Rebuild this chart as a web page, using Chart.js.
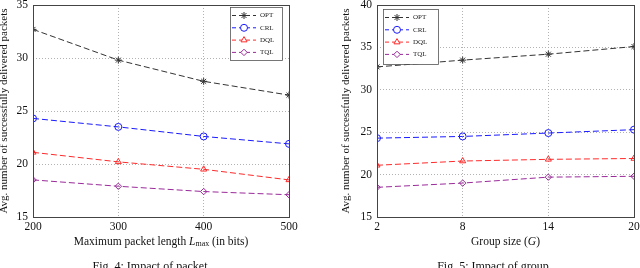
<!DOCTYPE html>
<html>
<head>
<meta charset="utf-8">
<script src="https://cdn.jsdelivr.net/npm/chart.js@4/dist/chart.umd.min.js"></script>
<style>
  html, body { margin: 0; padding: 0; background: #fff; overflow: hidden; }
  #wrap { position: relative; width: 640px; height: 268px; }
  canvas { position: absolute; top: 0; }
</style>
</head>
<body>
<div id="wrap">
  <canvas id="c1" width="320" height="268" style="left:0"></canvas>
  <canvas id="c2" width="320" height="268" style="left:320px"></canvas>
</div>
<script>
// ---- data ----
const seriesNames = ['OPT', 'CRL', 'DQL', 'TQL'];

const packetLengths = [200, 300, 400, 500];
const optByLength = [32.7, 29.8, 27.8, 26.5];
const crlByLength = [24.3, 23.5, 22.6, 21.9];
const dqlByLength = [21.1, 20.2, 19.5, 18.5];
const tqlByLength = [18.5, 17.9, 17.4, 17.1];
const yTicksLength = [15, 20, 25, 30, 35];

const groupSizes = [2, 8, 14, 20];
const optByGroup = [32.7, 33.5, 34.2, 35.1];
const crlByGroup = [24.3, 24.5, 24.9, 25.3];
const dqlByGroup = [21.1, 21.6, 21.8, 21.9];
const tqlByGroup = [18.5, 19.0, 19.7, 19.8];
const yTicksGroup = [15, 20, 25, 30, 35, 40];

const yTitle = 'Avg. number of successfully delivered packets';

// ---- styles ----
const SERIF = "'Liberation Serif', 'DejaVu Serif', serif";
const styles = [
  { color: '#333333', point: 'star', radius: 3.5 },
  { color: '#1a1aff', point: 'circle', radius: 3.5 },
  { color: '#ff2a2a', point: 'triangle', radius: 3.5 },
  { color: '#9a2a9a', point: 'rectRot', radius: 3.2 }
];

function makeDatasets(xs, seriesList) {
  return seriesList.map((vals, i) => ({
    label: seriesNames[i],
    data: xs.map((x, j) => ({ x: x, y: vals[j] })),
    borderColor: styles[i].color,
    backgroundColor: 'rgba(255,255,255,0)',
    pointBorderColor: styles[i].color,
    pointBackgroundColor: 'rgba(255,255,255,0)',
    pointStyle: styles[i].point,
    pointRadius: styles[i].radius,
    pointBorderWidth: 1,
    borderWidth: 1,
    borderDash: [6, 3],
    tension: 0
  }));
}

function framePlugin(opts) {
  return {
    id: 'frameLegend',
    afterDraw(chart) {
      const ctx = chart.ctx;
      const a = chart.chartArea;
      ctx.save();
      // frame
      ctx.strokeStyle = '#444';
      ctx.lineWidth = 1;
      ctx.setLineDash([]);
      ctx.strokeRect(Math.round(a.left) + 0.5, Math.round(a.top) + 0.5,
                     Math.round(a.right - a.left), Math.round(a.bottom - a.top));
      // legend
      const lg = opts.legend;
      const bx = lg.align === 'right' ? a.right - lg.margin - lg.w : a.left + lg.margin;
      const by = a.top + lg.top;
      ctx.fillStyle = '#fff';
      ctx.fillRect(bx, by, lg.w, lg.h);
      ctx.strokeStyle = '#555';
      ctx.lineWidth = 0.8;
      ctx.strokeRect(bx + 0.5, by + 0.5, lg.w, lg.h);
      chart.data.datasets.forEach((ds, i) => {
        const y = by + 8.5 + i * 12.3;
        ctx.strokeStyle = ds.borderColor;
        ctx.lineWidth = 1;
        ctx.setLineDash([4, 3]);
        ctx.beginPath();
        ctx.moveTo(bx + 2, y);
        ctx.lineTo(bx + 26, y);
        ctx.stroke();
        ctx.setLineDash([]);
        ctx.fillStyle = '#fff';
        ctx.strokeStyle = ds.borderColor;
        ctx.lineWidth = 1;
        Chart.helpers.drawPoint(ctx, {
          pointStyle: ds.pointStyle, radius: ds.pointRadius, borderWidth: 1
        }, bx + 14, y);
        ctx.fillStyle = '#222';
        ctx.font = '7px ' + SERIF;
        ctx.textBaseline = 'middle';
        ctx.textAlign = 'left';
        ctx.fillText(ds.label, bx + 30, y);
      });
      // x title
      const cx = (a.left + a.right) / 2;
      const ty = 242;
      ctx.fillStyle = '#111';
      ctx.textBaseline = 'middle';
      const parts = opts.xTitle;
      let total = 0;
      parts.forEach(p => { ctx.font = p.font; total += ctx.measureText(p.t).width; });
      let x = cx - total / 2;
      parts.forEach(p => {
        ctx.font = p.font;
        ctx.textAlign = 'left';
        ctx.fillText(p.t, x, ty + (p.dy || 0));
        x += ctx.measureText(p.t).width;
      });
      // caption
      ctx.font = '12px ' + SERIF;
      ctx.textAlign = 'center';
      ctx.textBaseline = 'top';
      ctx.fillText(opts.caption, opts.captionX, 261);
      ctx.restore();
    }
  };
}

function makeChart(id, xs, seriesList, yTicks, cfg) {
  const gridColor = 'rgba(170,170,170,0.9)';
  return new Chart(document.getElementById(id), {
    type: 'line',
    data: { datasets: makeDatasets(xs, seriesList) },
    options: {
      responsive: false,
      animation: false,
      devicePixelRatio: 1,
      layout: { padding: cfg.padding },
      plugins: { legend: { display: false }, tooltip: { enabled: false } },
      scales: {
        x: {
          type: 'linear',
          min: xs[0], max: xs[xs.length - 1],
          afterBuildTicks: s => { s.ticks = xs.map(v => ({ value: v })); },
          afterFit: s => { s.height = 33; s.paddingLeft = 0; s.paddingRight = 0; },
          grid: { color: gridColor, lineWidth: 1, drawTicks: false },
          border: { display: false, dash: [1, 2] },
          ticks: { color: '#111', font: { family: SERIF, size: 11.5 }, padding: 3, maxRotation: 0, autoSkip: false }
        },
        y: {
          min: yTicks[0], max: yTicks[yTicks.length - 1],
          afterBuildTicks: s => { s.ticks = yTicks.map(v => ({ value: v })); },
          afterFit: s => { s.width = cfg.yWidth; s.paddingTop = 0; s.paddingBottom = 0; },
          grid: { color: gridColor, lineWidth: 1, drawTicks: false },
          border: { display: false, dash: [1, 2] },
          ticks: { color: '#111', font: { family: SERIF, size: 11.5 }, padding: 5 },
          title: { display: true, text: yTitle, color: '#111', font: { family: SERIF, size: 11 }, padding: { top: cfg.yTitlePad, bottom: 0 } }
        }
      }
    },
    plugins: [framePlugin(cfg)]
  });
}

makeChart('c1', packetLengths, [optByLength, crlByLength, dqlByLength, tqlByLength], yTicksLength, {
  padding: { left: 0, top: 5, right: 31, bottom: 18 },
  yWidth: 33,
  yTitlePad: -2,
  legend: { align: 'right', margin: 7, top: 2, w: 52, h: 53 },
  xTitle: [
    { t: 'Maximum packet length ', font: '11.5px ' + SERIF },
    { t: 'L', font: 'italic 11.5px ' + SERIF },
    { t: 'max', font: '8px ' + SERIF, dy: 2 },
    { t: ' (in bits)', font: '11.5px ' + SERIF }
  ],
  caption: 'Fig. 4: Impact of packet',
  captionX: 150
});

makeChart('c2', groupSizes, [optByGroup, crlByGroup, dqlByGroup, tqlByGroup], yTicksGroup, {
  padding: { left: 20, top: 3, right: 6, bottom: 18 },
  yWidth: 37,
  yTitlePad: 0,
  legend: { align: 'left', margin: 6, top: 4, w: 55, h: 55 },
  xTitle: [
    { t: 'Group size (', font: '11.5px ' + SERIF },
    { t: 'G', font: 'italic 11.5px ' + SERIF },
    { t: ')', font: '11.5px ' + SERIF }
  ],
  caption: 'Fig. 5: Impact of group',
  captionX: 173
});
</script>
</body>
</html>
